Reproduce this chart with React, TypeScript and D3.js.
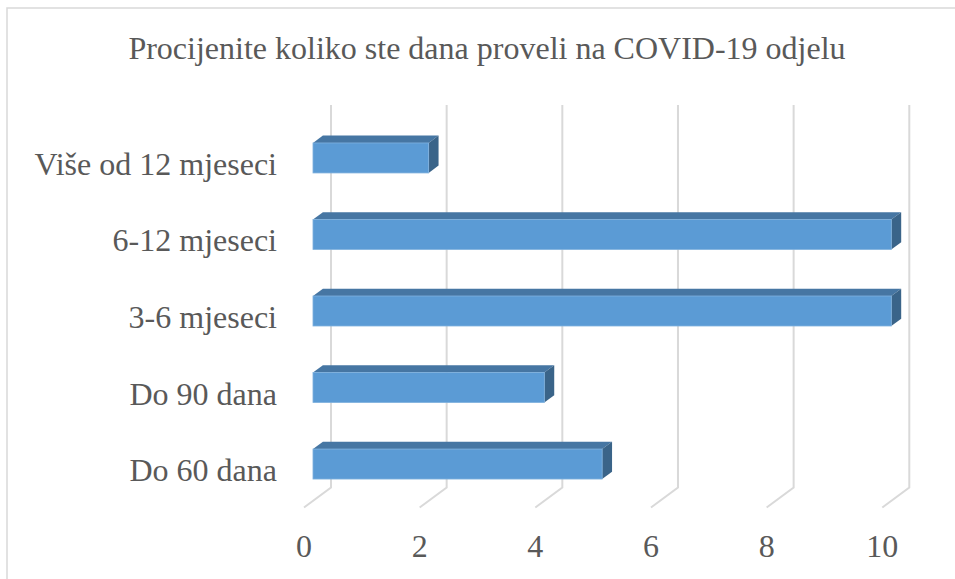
import React from "react";
import * as d3 from "d3";

const title = "Procijenite koliko ste dana proveli na COVID-19 odjelu";
const categories = ["Više od 12 mjeseci", "6-12 mjeseci", "3-6 mjeseci", "Do 90 dana", "Do 60 dana"];
const values = [2, 10, 10, 4, 5];
const ticks = [0, 2, 4, 6, 8, 10];

const W = 955;
const H = 579;
const FONT = "'Liberation Serif', 'Times New Roman', serif";
const TEXT = "#595959";
const GRID = "#D9D9D9";

export default function App() {
  // back wall scale
  const xBack = d3.scaleLinear().domain([0, 10]).range([331, 909.3]);
  // depth: 0 = back wall, 1 = front edge of floor
  const DX = -27;
  const DY = 20;
  const wallTop = 105;
  const wallBottom = 487.5;
  const dFront = 0.667;
  const dBack = 0.3;

  const y = d3
    .scaleBand<string>()
    .domain(categories)
    .range([119.7, 502.3])
    .paddingInner(0.608)
    .paddingOuter(0.304);

  const bw = y.bandwidth();
  const offX = (dFront - dBack) * -DX; // back face shift right
  const offY = (dFront - dBack) * DY; // back face shift up

  return (
    <svg width={W} height={H} style={{ position: "absolute", left: 0, top: 0, background: "#fff" }}>
      <rect x={7} y={8} width={W + 10} height={H + 10} fill="#fff" stroke={GRID} strokeWidth={1.5} />
      <text x={487} y={59} textAnchor="middle" fontFamily={FONT} fontSize={32} fill={TEXT}>
        {title}
      </text>
      {ticks.map((t) => (
        <g key={t}>
          <polyline
            points={`${xBack(t)},${wallTop} ${xBack(t)},${wallBottom} ${xBack(t) + DX},${wallBottom + DY}`}
            fill="none"
            stroke={GRID}
            strokeWidth={2}
          />
          <text
            x={xBack(t) + DX}
            y={556.7}
            textAnchor="middle"
            fontFamily={FONT}
            fontSize={32}
            fill={TEXT}
          >
            {t}
          </text>
        </g>
      ))}
      {categories.map((c, i) => {
        const yt = y(c) as number;
        const yb = yt + bw;
        const x0 = xBack(0) + dFront * DX;
        const x1 = xBack(values[i]) + dFront * DX;
        return (
          <g key={c}>
            <polygon
              points={`${x0},${yt} ${x1},${yt} ${x1 + offX},${yt - offY} ${x0 + offX},${yt - offY}`}
              fill="#4676A3"
            />
            <polygon
              points={`${x1},${yt} ${x1 + offX},${yt - offY} ${x1 + offX},${yb - offY} ${x1},${yb}`}
              fill="#3A6489"
            />
            <rect x={x0} y={yt} width={x1 - x0} height={bw} fill="#5B9BD5" stroke="#7FB1DE" strokeWidth={0.8} />
            <text
              x={277}
              y={yt + bw / 2 + 17}
              textAnchor="end"
              fontFamily={FONT}
              fontSize={32}
              fill={TEXT}
            >
              {c}
            </text>
          </g>
        );
      })}
    </svg>
  );
}
